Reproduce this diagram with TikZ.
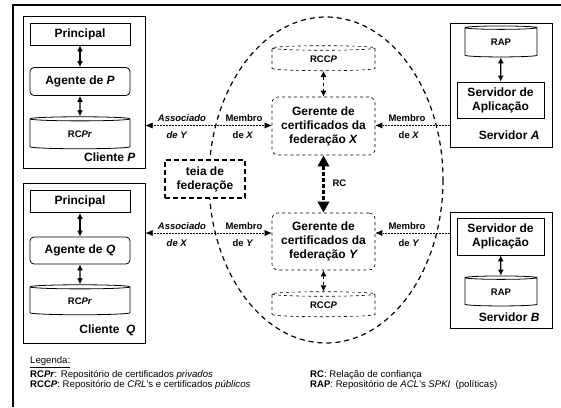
\documentclass[tikz,border=0pt]{standalone}
\usepackage{fontspec}
\setmainfont{Liberation Sans}
\usetikzlibrary{arrows.meta,shapes.geometric}

\begin{document}
\begin{tikzpicture}[x=1pt,y=-1pt,
    frame/.style={draw,line width=1pt,inner sep=0pt},
    box/.style={draw,line width=.8pt,minimum width=100,minimum height=22,inner sep=1pt,
      align=center,font=\bfseries\fontsize{12}{14}\selectfont},
    agent/.style={box,rounded corners=4pt,minimum height=28},
    repo/.style={cylinder,shape border rotate=90,draw,line width=.8pt,aspect=.17,
      minimum width=100,minimum height=32,inner sep=0pt,font=\bfseries\fontsize{9.5}{11}\selectfont},
    gcf/.style={draw,dashed,line width=.6pt,rounded corners=6pt,minimum width=103,minimum height=58,
      inner sep=0pt,align=center,font=\bfseries\fontsize{12}{14}\selectfont},
    tag/.style={font=\bfseries\fontsize{12}{14}\selectfont},
    lbl/.style={font=\bfseries\fontsize{9.5}{11}\selectfont},
    leg/.style={anchor=west,inner sep=0pt,font=\fontsize{9.6}{10}\selectfont},
    dbl/.style={{Latex[length=6pt,width=6pt]}-{Latex[length=6pt,width=6pt]},line width=1.2pt},
    link/.style={densely dotted,line width=.5pt,-{Latex[length=7pt,width=6pt]}},
    linkb/.style={densely dotted,line width=.5pt,{Latex[length=7pt,width=6pt]}-{Latex[length=7pt,width=6pt]}}]
\useasboundingbox (0,0) rectangle (561,407);
\draw[line width=2pt] (13,407) -- (13,5) -- (562,5);

% federation
\draw[line width=1.2pt,dash pattern=on 5pt off 4pt] (326,180) ellipse [x radius=117,y radius=163];

% clients
\node[frame,minimum width=122,minimum height=152] (cp) at (84,92) {};
\node[box] (prp) at (80,34) {Principal};
\node[agent] (agp) at (80,81.5) {Agente de \textit{P}};
\node[repo] (rcp) at (80,134) {RC\textit{Pr}};
\node[tag,anchor=east] (tcp) at (139,157) {Cliente \textit{P}};
\draw[dbl] (prp) -- (agp);
\draw[dbl] (agp) -- (rcp);

\node[frame,minimum width=122,minimum height=160] (cq) at (84,263) {};
\node[box] (prq) at (80,201.5) {Principal};
\node[agent,minimum height=27] (agq) at (80,250.5) {Agente de \textit{Q}};
\node[repo,minimum height=30] (rcq) at (80,301) {RC\textit{Pr}};
\node[tag,anchor=east] (tcq) at (139,330) {Cliente\ \ \textit{Q}};
\draw[dbl] (prq) -- (agq);
\draw[dbl] (agq) -- (rcq);

% servers
\node[frame,minimum width=102,minimum height=124] (sa) at (501,85) {};
\node[repo,minimum width=72,minimum height=31] (rapa) at (501,42.5) {RAP};
\node[box,minimum width=87,minimum height=36] (apa) at (500.5,100) {Servidor de\\Aplicação};
\node[tag,anchor=east] (tsa) at (543,135) {Servidor \textit{A}};
\draw[dbl] (rapa) -- (apa);

\node[frame,minimum width=102,minimum height=116] (sb) at (501,270) {};
\node[box,minimum width=87,minimum height=37] (apb) at (500.5,236.5) {Servidor de\\Aplicação};
\node[repo,minimum width=72,minimum height=30] (rapb) at (501,292) {RAP};
\node[tag,anchor=east] (tsb) at (543,317) {Servidor \textit{B}};
\draw[dbl] (apb) -- (rapb);

% managers
\node[gcf] (gx) at (323.5,126) {Gerente de\\certificados da\\federação \textit{X}};
\node[repo,dashed,line width=.6pt,minimum width=103,minimum height=25] (ccx) at (323.5,59.5) {RCC\textit{P}};
\node[gcf,minimum height=57] (gy) at (323.5,241.5) {Gerente de\\certificados da\\federação\ \textit{Y}};
\node[repo,dashed,line width=.6pt,minimum width=103,minimum height=25] (ccy) at (323.5,305.5) {RCC\textit{P}};
\draw[dbl,dashed,line width=.8pt] (ccx) -- (gx);
\draw[dbl,dashed,line width=.8pt] (gy) -- (ccy);
\draw[line width=3pt,dash pattern=on 4pt off 2pt,
  {Triangle[length=11pt,width=11pt]}-{Triangle[length=11pt,width=11pt]}] (gx) -- (gy);
\node[lbl,anchor=west] (rc) at (329,183) {RC};

\node[draw,line width=1.5pt,dash pattern=on 5pt off 3pt,fill=white,minimum width=80,minimum height=38,
  inner sep=0pt,align=center,font=\bfseries\fontsize{12}{14}\selectfont] (teia) at (205,179) {teia de\\federaçõe};

% links
\coordinate (lnx) at (0,125.5);
\coordinate (lny) at (0,233);
\draw[linkb] (cp.east |- lnx) -- (gx.west |- lnx);
\draw[link] (sa.west |- lnx) -- (gx.east |- lnx);
\draw[linkb] (cq.east |- lny) -- (gy.west |- lny);
\draw[link] (sb.west |- lny) -- (gy.east |- lny);

\node[lbl] (asx1) at (182,118) {\textit{Associado}};
\node[lbl] (asx2) at (177,135) {\textit{de Y}};
\node[lbl] (mbx1) at (244,118) {Membro};
\node[lbl] (mbx2) at (243,135) {de \textit{X}};
\node[lbl] (msa1) at (407,118) {Membro};
\node[lbl] (msa2) at (409,135) {de \textit{X}};
\node[lbl] (asy1) at (182,226) {\textit{Associado}};
\node[lbl] (asy2) at (177,243) {\textit{de X}};
\node[lbl] (mby1) at (244,226) {Membro};
\node[lbl] (mby2) at (243,243) {de \textit{Y}};
\node[lbl] (msb1) at (407,226) {Membro};
\node[lbl] (msb2) at (409,243) {de \textit{Y}};

% legend
\node[leg] (lg0) at (30,362) {\underline{Legenda:}};
\node[leg] (lg1) at (30,375) {\textbf{RC\textit{Pr}}: Repositório de certificados \textit{privados}};
\node[leg] (lg2) at (30,385) {\textbf{RCC\textit{P}}: Repositório de \textit{CRL}'s e certificados \textit{públicos}};
\node[leg] (lg3) at (310,375) {\textbf{RC}: Relação de confiança};
\node[leg] (lg4) at (310,385) {\textbf{RAP}: Repositório de \textit{ACL}'s \textit{SPKI}\ \ (políticas)};
\end{tikzpicture}
\end{document}
